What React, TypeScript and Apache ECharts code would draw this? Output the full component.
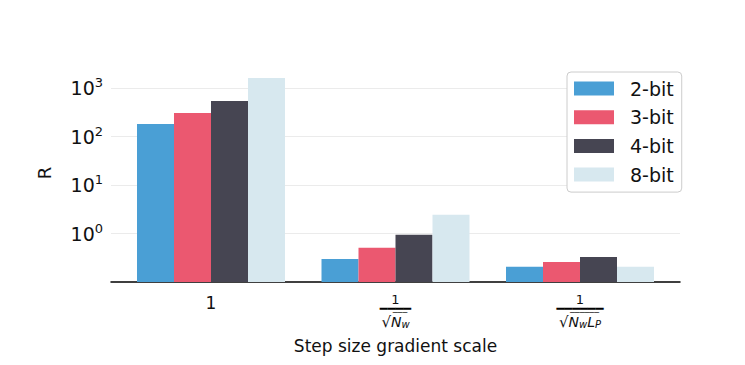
import React, { useEffect, useRef } from "react";
import * as echarts from "echarts";

const categories = ["1", "1/sqrt(Nw)", "1/sqrt(NwLp)"];
const seriesNames = ["2-bit", "3-bit", "4-bit", "8-bit"];
const values2bit = [183, 0.3, 0.206];
const values3bit = [309, 0.51, 0.26];
const values4bit = [545, 0.94, 0.33];
const values8bit = [1620, 2.43, 0.206];
const colors = ["#4a9fd5", "#eb5870", "#464552", "#d7e8ef"];
const yTicks = [0.1, 1, 10, 100, 1000];

const FONT = "DejaVu Sans";

export default function App() {
  const ref = useRef<HTMLDivElement>(null);
  useEffect(() => {
    if (!ref.current) return;
    const chart = echarts.init(ref.current, undefined, { renderer: "svg" });
    const allValues = [values2bit, values3bit, values4bit, values8bit];
    const labelFor = (idx: number) => {
      if (idx === 0) return "{one|" + categories[0] + "}";
      if (idx === 1) return "{num|1}\n{bar|━━━━}\n{vin|───}\n{sq|√}{it|N}{sub|w}";
      return "{num|1}\n{bar|━━━━━━}\n{vin|──────}\n{sq|√}{it|N}{sub|w}{it|L}{sub|P}";
    };
    const option: any = {
      animation: false,
      textStyle: { fontFamily: FONT },
      grid: { left: 111, right: 65, top: 64, bottom: 83, containLabel: false },
      legend: {
        orient: "vertical",
        left: 567,
        top: 72,
        padding: [7, 8, 8, 7],
        itemWidth: 40,
        itemHeight: 14,
        itemGap: 9.7,
        borderColor: "#cccccc",
        borderWidth: 1,
        borderRadius: 4,
        backgroundColor: "#ffffff",
        icon: "rect",
        textStyle: { fontSize: 19, color: "#111", fontFamily: FONT, padding: [0, 0, 0, 11], lineHeight: 19 },
        data: seriesNames,
      },
      xAxis: {
        type: "value",
        min: -0.542,
        max: 2.542,
        name: "Step size gradient scale",
        nameLocation: "middle",
        nameGap: 55,
        nameTextStyle: { fontSize: 17, color: "#111", fontFamily: FONT },
        axisLine: { show: true, lineStyle: { color: "#000", width: 1.5 } },
        axisTick: { show: false },
        splitLine: { show: false },
        axisLabel: {
          customValues: [0, 1, 2],
          margin: 10,
          verticalAlign: "top",
          color: "#111",
          formatter: (v: number) => labelFor(Math.round(v)),
          rich: {
            one: { fontSize: 17, fontFamily: FONT, color: "#111", lineHeight: 22 },
            num: { fontSize: 13, fontFamily: FONT, color: "#111", lineHeight: 14 },
            bar: { fontSize: 13, fontFamily: FONT, color: "#000", lineHeight: 5 },
            vin: { fontSize: 8, fontFamily: FONT, color: "#111", lineHeight: 2, padding: [0, 0, 0, 9] },
            sq: { fontSize: 15, fontFamily: FONT, color: "#111", lineHeight: 17 },
            it: { fontSize: 14, fontFamily: FONT, fontStyle: "italic", color: "#111", lineHeight: 17 },
            sub: { fontSize: 10, fontFamily: FONT, fontStyle: "italic", color: "#111", padding: [6, 0, 0, 0], lineHeight: 17 },
          },
        },
      },
      yAxis: {
        type: "log",
        logBase: 10,
        min: yTicks[0],
        max: 3162,
        startValue: yTicks[0],
        name: "R",
        nameLocation: "middle",
        nameGap: 58,
        nameRotate: 90,
        nameTextStyle: { fontSize: 18, color: "#111", fontFamily: FONT },
        axisLine: { show: false },
        axisTick: { show: false },
        splitLine: {
          show: true,
          lineStyle: {
            color: ["rgba(0,0,0,0)", "#ebebeb", "#ebebeb", "#ebebeb", "#ebebeb", "rgba(0,0,0,0)"],
            width: 1.2,
          },
        },
        axisLabel: {
          showMinLabel: false,
          showMaxLabel: false,
          margin: 8,
          color: "#111",
          formatter: (v: number) => {
            const n = Math.round(Math.log10(v));
            return "{b|10}{s|" + n + "}";
          },
          rich: {
            b: { fontSize: 19, fontFamily: FONT, color: "#111" },
            s: { fontSize: 13, fontFamily: FONT, color: "#111", padding: [0, 0, 11, 0] },
          },
        },
      },
      series: seriesNames.map((name, i) => ({
        name,
        type: "bar",
        barWidth: 37,
        barGap: "0%",
        itemStyle: { color: colors[i] },
        data: allValues[i].map((v, j) => [j, v]),
      })),
    };
    chart.setOption(option);
    return () => chart.dispose();
  }, []);
  return <div ref={ref} style={{ width: 745, height: 365, margin: -8 }} />;
}
